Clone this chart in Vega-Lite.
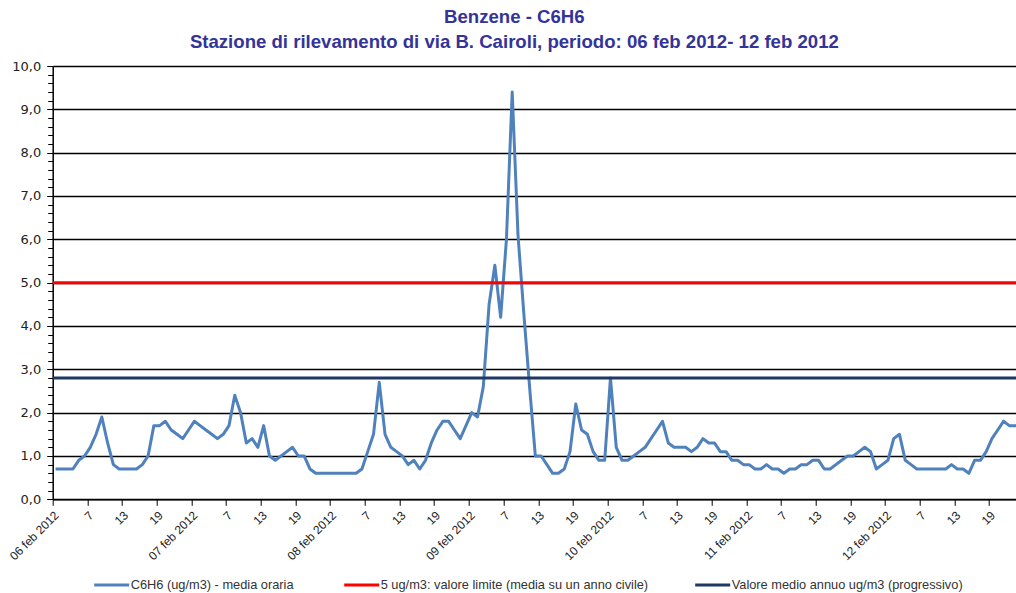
{
  "$schema": "https://vega.github.io/schema/vega-lite/v6.json",
  "width": 963.3,
  "height": 433.3,
  "autosize": "none",
  "padding": {"left": 52.7, "top": 66, "right": 0, "bottom": 93.7},
  "background": "white",
  "config": {"view": {"stroke": null}, "font": "Liberation Sans"},
  "title": {
    "text": ["Benzene - C6H6", "Stazione di rilevamento di via B. Cairoli, periodo: 06 feb 2012- 12 feb 2012"],
    "font": "Liberation Sans",
    "fontSize": 18.6,
    "fontWeight": "bold",
    "color": "#333399",
    "anchor": "middle",
    "lineHeight": 25,
    "offset": 8,
    "dx": -20
  },
  "datasets": {
    "benzene": [
      {"h":0,"v":0.7},{"h":1,"v":0.7},{"h":2,"v":0.7},{"h":3,"v":0.7},{"h":4,"v":0.9},{"h":5,"v":1.0},{"h":6,"v":1.2},{"h":7,"v":1.5},{"h":8,"v":1.9},{"h":9,"v":1.3},
      {"h":10,"v":0.8},{"h":11,"v":0.7},{"h":12,"v":0.7},{"h":13,"v":0.7},{"h":14,"v":0.7},{"h":15,"v":0.8},{"h":16,"v":1.0},{"h":17,"v":1.7},{"h":18,"v":1.7},{"h":19,"v":1.8},
      {"h":20,"v":1.6},{"h":21,"v":1.5},{"h":22,"v":1.4},{"h":23,"v":1.6},{"h":24,"v":1.8},{"h":25,"v":1.7},{"h":26,"v":1.6},{"h":27,"v":1.5},{"h":28,"v":1.4},{"h":29,"v":1.5},
      {"h":30,"v":1.7},{"h":31,"v":2.4},{"h":32,"v":2.0},{"h":33,"v":1.3},{"h":34,"v":1.4},{"h":35,"v":1.2},{"h":36,"v":1.7},{"h":37,"v":1.0},{"h":38,"v":0.9},{"h":39,"v":1.0},
      {"h":40,"v":1.1},{"h":41,"v":1.2},{"h":42,"v":1.0},{"h":43,"v":1.0},{"h":44,"v":0.7},{"h":45,"v":0.6},{"h":46,"v":0.6},{"h":47,"v":0.6},{"h":48,"v":0.6},{"h":49,"v":0.6},
      {"h":50,"v":0.6},{"h":51,"v":0.6},{"h":52,"v":0.6},{"h":53,"v":0.7},{"h":54,"v":1.1},{"h":55,"v":1.5},{"h":56,"v":2.7},{"h":57,"v":1.5},{"h":58,"v":1.2},{"h":59,"v":1.1},
      {"h":60,"v":1.0},{"h":61,"v":0.8},{"h":62,"v":0.9},{"h":63,"v":0.7},{"h":64,"v":0.9},{"h":65,"v":1.3},{"h":66,"v":1.6},{"h":67,"v":1.8},{"h":68,"v":1.8},{"h":69,"v":1.6},
      {"h":70,"v":1.4},{"h":71,"v":1.7},{"h":72,"v":2.0},{"h":73,"v":1.9},{"h":74,"v":2.6},{"h":75,"v":4.5},{"h":76,"v":5.4},{"h":77,"v":4.2},{"h":78,"v":6.0},{"h":79,"v":9.4},
      {"h":80,"v":6.1},{"h":81,"v":4.3},{"h":82,"v":2.6},{"h":83,"v":1.0},{"h":84,"v":1.0},{"h":85,"v":0.8},{"h":86,"v":0.6},{"h":87,"v":0.6},{"h":88,"v":0.7},{"h":89,"v":1.1},
      {"h":90,"v":2.2},{"h":91,"v":1.6},{"h":92,"v":1.5},{"h":93,"v":1.1},{"h":94,"v":0.9},{"h":95,"v":0.9},{"h":96,"v":2.8},{"h":97,"v":1.2},{"h":98,"v":0.9},{"h":99,"v":0.9},
      {"h":100,"v":1.0},{"h":101,"v":1.1},{"h":102,"v":1.2},{"h":103,"v":1.4},{"h":104,"v":1.6},{"h":105,"v":1.8},{"h":106,"v":1.3},{"h":107,"v":1.2},{"h":108,"v":1.2},{"h":109,"v":1.2},
      {"h":110,"v":1.1},{"h":111,"v":1.2},{"h":112,"v":1.4},{"h":113,"v":1.3},{"h":114,"v":1.3},{"h":115,"v":1.1},{"h":116,"v":1.1},{"h":117,"v":0.9},{"h":118,"v":0.9},{"h":119,"v":0.8},
      {"h":120,"v":0.8},{"h":121,"v":0.7},{"h":122,"v":0.7},{"h":123,"v":0.8},{"h":124,"v":0.7},{"h":125,"v":0.7},{"h":126,"v":0.6},{"h":127,"v":0.7},{"h":128,"v":0.7},{"h":129,"v":0.8},
      {"h":130,"v":0.8},{"h":131,"v":0.9},{"h":132,"v":0.9},{"h":133,"v":0.7},{"h":134,"v":0.7},{"h":135,"v":0.8},{"h":136,"v":0.9},{"h":137,"v":1.0},{"h":138,"v":1.0},{"h":139,"v":1.1},
      {"h":140,"v":1.2},{"h":141,"v":1.1},{"h":142,"v":0.7},{"h":143,"v":0.8},{"h":144,"v":0.9},{"h":145,"v":1.4},{"h":146,"v":1.5},{"h":147,"v":0.9},{"h":148,"v":0.8},{"h":149,"v":0.7},
      {"h":150,"v":0.7},{"h":151,"v":0.7},{"h":152,"v":0.7},{"h":153,"v":0.7},{"h":154,"v":0.7},{"h":155,"v":0.8},{"h":156,"v":0.7},{"h":157,"v":0.7},{"h":158,"v":0.6},{"h":159,"v":0.9},
      {"h":160,"v":0.9},{"h":161,"v":1.1},{"h":162,"v":1.4},{"h":163,"v":1.6},{"h":164,"v":1.8},{"h":165,"v":1.7},{"h":166,"v":1.7},{"h":167,"v":1.7}
    ],
    "riferimenti": [
      {"serie": "5 ug/m3: valore limite (media su un anno civile)", "valore": 5},
      {"serie": "Valore medio annuo ug/m3 (progressivo)", "valore": 2.8}
    ]
  },
  "resolve": {"axis": {"y": "independent"}},
  "layer": [
    {
      "data": {"name": "benzene"},
      "mark": {"type": "line", "clip": true, "strokeWidth": 3, "strokeJoin": "round"},
      "encoding": {
        "x": {
          "field": "h", "type": "quantitative",
          "scale": {"domain": [-0.5, 166.16], "nice": false, "zero": false},
          "axis": {
            "title": null,
            "grid": false,
            "values": [-0.5, 5.5, 11.5, 17.5, 23.5, 29.5, 35.5, 41.5, 47.5, 53.5, 59.5, 65.5, 71.5, 77.5, 83.5, 89.5, 95.5, 101.5, 107.5, 113.5, 119.5, 125.5, 131.5, 137.5, 143.5, 149.5, 155.5, 161.5],
            "labelExpr": "(datum.value + 0.5) % 24 == 0 ? ['06 feb 2012','07 feb 2012','08 feb 2012','09 feb 2012','10 feb 2012','11 feb 2012','12 feb 2012'][(datum.value + 0.5) / 24] : ((datum.value + 0.5) % 24 + 1) + ''",
            "labelAngle": -45,
            "labelFontSize": 12,
            "labelColor": "#222222",
            "labelOverlap": false,
            "labelFlush": false,
            "labelPadding": 4,
            "tickColor": "black",
            "tickSize": 6,
            "domainColor": "black",
            "domainWidth": 1.5
          }
        },
        "y": {
          "field": "v", "type": "quantitative",
          "scale": {"domain": [0, 10], "nice": false},
          "axis": {
            "title": null,
            "orient": "left",
            "values": [0, 1, 2, 3, 4, 5, 6, 7, 8, 9, 10],
            "labelExpr": "replace(format(datum.value, '.1f'), '.', ',')",
            "labelOverlap": false,
            "labelFlush": false,
            "labelFont": "DejaVu Sans",
            "labelFontSize": 13,
            "labelColor": "#222222",
            "labelPadding": 6,
            "tickColor": "black",
            "tickSize": 6,
            "domainColor": "black",
            "domainWidth": 1.5,
            "grid": true,
            "gridColor": "black",
            "gridWidth": 1.5
          }
        },
        "color": {
          "datum": "C6H6 (ug/m3)  - media oraria",
          "type": "nominal",
          "scale": {
            "domain": ["C6H6 (ug/m3)  - media oraria", "5 ug/m3: valore limite (media su un anno civile)", "Valore medio annuo ug/m3 (progressivo)"],
            "range": ["#4F81BD", "#FF0000", "#1F3864"]
          },
          "legend": {
            "title": null,
            "orient": "none",
            "legendX": 40,
            "legendY": 500,
            "direction": "horizontal",
            "symbolType": "stroke",
            "symbolSize": 1225,
            "symbolStrokeWidth": 3,
            "labelFontSize": 12.8,
            "labelColor": "#333333",
            "labelOffset": 0,
            "columnPadding": 40,
            "labelLimit": 400
          }
        }
      }
    },
    {
      "data": {"name": "riferimenti"},
      "mark": {"type": "rule", "strokeWidth": 3},
      "encoding": {
        "y": {
          "field": "valore", "type": "quantitative",
          "axis": {
            "title": null,
            "orient": "left",
            "values": [0.2,0.4,0.6,0.8,1.2,1.4,1.6,1.8,2.2,2.4,2.6,2.8,3.2,3.4,3.6,3.8,4.2,4.4,4.6,4.8,5.2,5.4,5.6,5.8,6.2,6.4,6.6,6.8,7.2,7.4,7.6,7.8,8.2,8.4,8.6,8.8,9.2,9.4,9.6,9.8],
            "labels": false,
            "domain": false,
            "grid": false,
            "tickColor": "black",
            "tickSize": 5,
            "tickWidth": 1
          }
        },
        "color": {
          "field": "serie", "type": "nominal",
          "legend": {
            "title": null,
            "orient": "none",
            "legendX": 40,
            "legendY": 500,
            "direction": "horizontal",
            "symbolType": "stroke",
            "symbolSize": 1225,
            "symbolStrokeWidth": 3,
            "labelFontSize": 12.8,
            "labelColor": "#333333",
            "labelOffset": 0,
            "columnPadding": 40,
            "labelLimit": 400
          }
        }
      }
    }
  ]
}
